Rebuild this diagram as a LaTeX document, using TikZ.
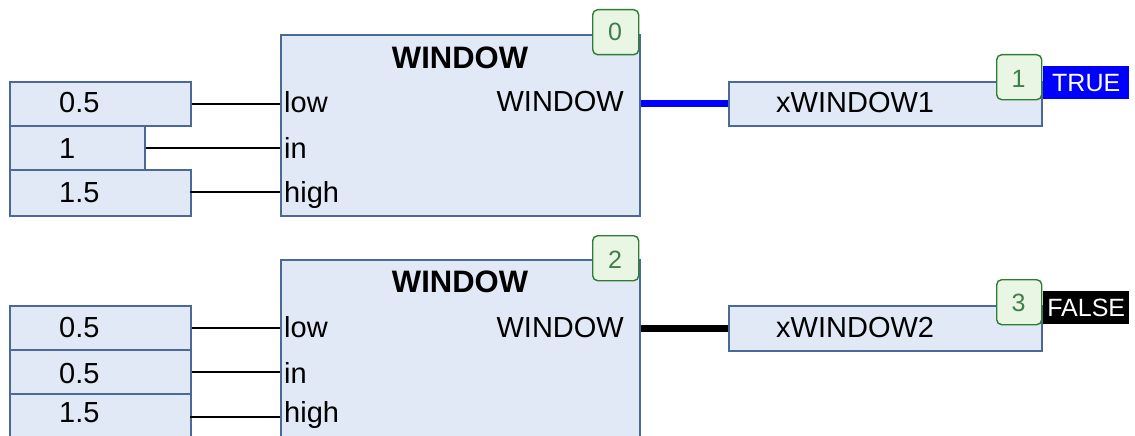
\documentclass[tikz,border=0pt]{standalone}
\usepackage{fontspec}
\setmainfont{Liberation Sans}
\definecolor{boxfill}{HTML}{E1E9F6}
\definecolor{boxline}{HTML}{4A6898}
\definecolor{badgefill}{HTML}{EAF6E4}
\definecolor{badgeline}{HTML}{2E7D32}
\definecolor{badgetext}{HTML}{3F7F4A}
\definecolor{truebg}{HTML}{0000FF}
\begin{document}
\begin{tikzpicture}[x=1pt,y=1pt,
  fb/.style={draw=boxline, fill=boxfill, line width=1.6pt, rectangle, inner sep=0pt, anchor=north west},
  badge/.style={draw=badgeline, fill=badgefill, line width=1.4pt, rounded corners=5pt, rectangle, inner sep=0pt, anchor=north west, minimum width=46pt, minimum height=45pt},
  lbl/.style={inner sep=0pt, anchor=base west, font=\fontsize{29}{31}\selectfont},
  ttl/.style={inner sep=0pt, anchor=base, font=\fontsize{31}{33}\selectfont\bfseries},
  btxt/.style={inner sep=0pt, anchor=base, text=badgetext, font=\fontsize{25}{27}\selectfont},
  valbox/.style={rectangle, inner sep=0pt, anchor=north west, minimum width=86pt, minimum height=33pt, text=white, font=\fontsize{25}{27}\selectfont},
  wire/.style={line width=1.7pt, black},
  bus/.style={line width=7pt}
]
\useasboundingbox (0,0) rectangle (1135,-436);
\clip (0,0) rectangle (1135,-436);

% ---------- top network ----------
\node[fb, minimum width=181pt, minimum height=44pt] (i1) at (9,-81) {};
\node[fb, minimum width=135pt, minimum height=44pt] (i2) at (9,-125) {};
\node[fb, minimum width=181pt, minimum height=46pt] (i3) at (9,-169) {};
\node[fb, minimum width=359pt, minimum height=181pt] (b1) at (280,-34) {};
\node[badge] (g0) at (592,-9) {};
\node[fb, minimum width=313pt, minimum height=44pt] (o1) at (728,-81) {};
\node[badge, minimum width=45pt] (g1) at (996,-54) {};
\node[valbox, fill=truebg] (v1) at (1043,-66) {TRUE};

\node[lbl] (t1) at (59,-112) {0.5};
\node[lbl] (t2) at (59,-158) {1};
\node[lbl] (t3) at (59,-202) {1.5};
\node[lbl] (p1) at (284,-112) {low};
\node[lbl] (p2) at (284,-158) {in};
\node[lbl] (p3) at (284,-202) {high};
\node[ttl] (h1) at (460,-68) {WINDOW};
\node[lbl, anchor=base east] (q1) at (624,-111) {WINDOW};
\node[lbl] (x1) at (776,-112) {xWINDOW1};
\node[btxt] (n0) at (615,-41) {0};
\node[btxt] (n1) at (1018.5,-87) {1};

\draw[wire] (i1.east) -- (i1.east -| b1.west);
\draw[wire] (i2.east) -- (i2.east -| b1.west);
\coordinate (c3) at (190,-192);
\draw[wire] (c3) -- (c3 -| b1.west);
\draw[bus, truebg] (o1.west -| b1.east) -- (o1.west);

% ---------- bottom network ----------
\node[fb, minimum width=181pt, minimum height=44pt] (j1) at (9,-305) {};
\node[fb, minimum width=181pt, minimum height=44pt] (j2) at (9,-349) {};
\node[fb, minimum width=181pt, minimum height=60pt] (j3) at (9,-393) {};
\node[fb, minimum width=359pt, minimum height=200pt] (b2) at (280,-259) {};
\node[badge] (g2) at (592,-235) {};
\node[fb, minimum width=313pt, minimum height=45pt] (o2) at (728,-305) {};
\node[badge, minimum width=45pt] (g3) at (996,-279) {};
\node[valbox, fill=black] (v2) at (1043,-291) {FALSE};

\node[lbl] (u1) at (59,-337) {0.5};
\node[lbl] (u2) at (59,-383) {0.5};
\node[lbl] (u3) at (59,-422) {1.5};
\node[lbl] (r1) at (284,-337) {low};
\node[lbl] (r2) at (284,-383) {in};
\node[lbl] (r3) at (284,-422) {high};
\node[ttl] (h2) at (460,-292) {WINDOW};
\node[lbl, anchor=base east] (q2) at (624,-337) {WINDOW};
\node[lbl] (x2) at (776,-337) {xWINDOW2};
\node[btxt] (n2) at (615,-268) {2};
\node[btxt] (n3) at (1018.5,-311) {3};

\draw[wire] (j1.east) -- (j1.east -| b2.west);
\draw[wire] (j2.east) -- (j2.east -| b2.west);
\coordinate (d3) at (190,-417);
\draw[wire] (d3) -- (d3 -| b2.west);
\draw[bus, black] (o2.west -| b2.east) -- (o2.west);
\end{tikzpicture}
\end{document}
